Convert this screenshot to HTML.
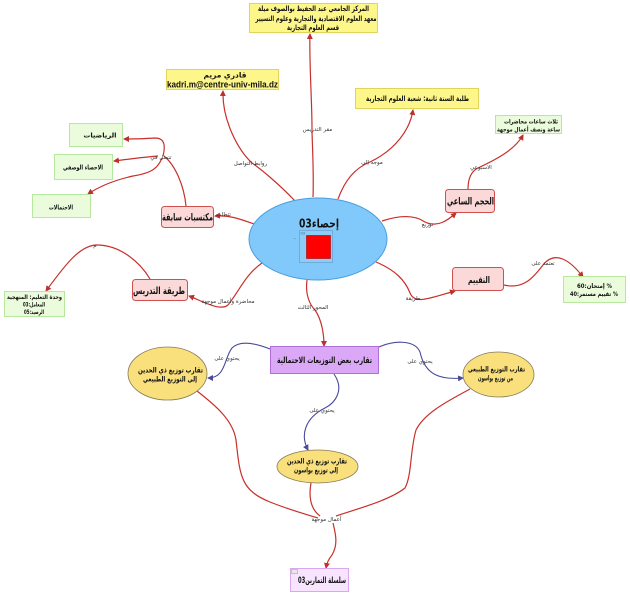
<!DOCTYPE html>
<html><head><meta charset="utf-8"><style>
html,body{margin:0;padding:0;background:#fff;}
svg{display:block;}
text{font-family:"DejaVu Sans","Liberation Sans",sans-serif;}
.b{font-weight:bold;fill:#111;}
.l{font-size:5.5px;fill:#333;}
</style></head><body>
<svg width="630" height="596" viewBox="0 0 630 596" xmlns="http://www.w3.org/2000/svg">
<defs>
<marker id="ar" markerWidth="6" markerHeight="6" refX="5" refY="3" orient="auto" markerUnits="userSpaceOnUse"><path d="M0,0 L6,3 L0,6 z" fill="#c0302a"/></marker>
<marker id="an" markerWidth="6" markerHeight="6" refX="5" refY="3" orient="auto" markerUnits="userSpaceOnUse"><path d="M0,0 L6,3 L0,6 z" fill="#4a4a9a"/></marker>
</defs>
<g fill="none" stroke="#c8302a" stroke-width="1.2">
<path d="M313 197 C314 170 312 140 312 129 C312 100 309 60 310 34" marker-end="url(#ar)"/>
<path d="M295 201 C280 185 262 170 252 163 C238 150 222 120 223 91" marker-end="url(#ar)"/>
<path d="M338 199 C345 180 355 168 370 162 C395 150 410 130 413 110" marker-end="url(#ar)"/>
<path d="M382 221 C400 215 415 215 425 222 C438 228 448 220 456 213" marker-end="url(#ar)"/>
<path d="M468 189 C468 180 470 172 478 168 C495 160 515 150 523 135" marker-end="url(#ar)"/>
<path d="M376 262 C395 270 405 280 410 293 C415 305 430 298 455 291" marker-end="url(#ar)"/>
<path d="M504 285 C525 290 535 275 543 265 C555 250 570 260 583 277" marker-end="url(#ar)"/>
<path d="M254 224 C240 219 230 215 215 216" marker-end="url(#ar)"/>
<path d="M186 206 C184 185 175 165 164 156"/>
<path d="M163 156 C165 148 166 138 155 138 C140 139 132 139 124 139" marker-end="url(#ar)"/>
<path d="M158 156 C145 157 130 159 114 161" marker-end="url(#ar)"/>
<path d="M162 158 C158 168 152 173 133 176 C115 180 100 186 88 194" marker-end="url(#ar)"/>
<path d="M262 263 C245 275 240 290 228 305 C220 312 200 300 189 296" marker-end="url(#ar)"/>
<path d="M150 279 C140 262 120 245 97 245 C80 245 65 265 46 291" marker-end="url(#ar)"/>
<path d="M307 280 C305 295 310 305 315 310 C322 320 324 335 324 346" marker-end="url(#ar)"/>
<path d="M197 391 C215 405 233 420 236 440 C240 475 240 490 270 502 C290 510 305 514 318 518"/>
<path d="M470 389 C450 400 425 412 416 430 C410 450 412 475 405 488 C390 500 360 508 336 516"/>
<path d="M311 483 C308 500 312 510 320 516"/>
<path d="M333 523 C336 535 338 545 332 555 C328 560 327 563 326 568" marker-end="url(#ar)"/>
</g>
<g fill="none" stroke="#4a4a9a" stroke-width="1.1">
<path d="M270 349 C255 343 240 340 232 348 C224 358 226 378 208 378" marker-end="url(#an)"/>
<path d="M379 347 C395 340 415 340 420 352 C425 375 440 380 463 378" marker-end="url(#an)"/>
<path d="M334 374 C345 390 335 403 325 408 C305 418 300 435 308 450" marker-end="url(#an)"/>
</g>

<!-- yellow boxes -->
<rect x="249.5" y="3.5" width="128" height="29" fill="#fdf68a" stroke="#e2d35a"/>
<text class="b" direction="rtl" text-anchor="middle" x="313.5" y="11" font-size="7.5" textLength="111" lengthAdjust="spacingAndGlyphs">المركز الجامعي عبد الحفيظ بوالصوف ميلة</text>
<text class="b" direction="rtl" text-anchor="middle" x="316" y="21" font-size="7.5" textLength="121" lengthAdjust="spacingAndGlyphs">معهد العلوم الاقتصادية والتجارية وعلوم التسيير</text>
<text class="b" direction="rtl" text-anchor="middle" x="313" y="30" font-size="7.5" textLength="52" lengthAdjust="spacingAndGlyphs">قسم العلوم التجارية</text>

<rect x="166.5" y="69.5" width="112" height="20" fill="#fdf68a" stroke="#e2d35a"/>
<text class="b" direction="rtl" text-anchor="middle" x="225" y="77.5" font-size="7.5" textLength="43" lengthAdjust="spacingAndGlyphs">قادري مريم</text>
<text class="b" text-anchor="middle" x="222.5" y="87.5" font-size="9.5" textLength="111" lengthAdjust="spacingAndGlyphs" style="font-family:'Liberation Sans',sans-serif">kadri.m@centre-univ-mila.dz</text>

<rect x="355.5" y="88.5" width="123" height="20" fill="#fdf68a" stroke="#e2d35a"/>
<text class="b" direction="rtl" text-anchor="middle" x="417.5" y="101" font-size="7.5" textLength="103" lengthAdjust="spacingAndGlyphs">طلبة السنة ثانية: شعبة العلوم التجارية</text>

<!-- green boxes -->
<rect x="495.5" y="115.5" width="66" height="18" fill="#eafcdc" stroke="#b8e8a0"/>
<text class="b" direction="rtl" text-anchor="middle" x="531" y="123.5" font-size="6" textLength="54" lengthAdjust="spacingAndGlyphs">ثلاث ساعات  محاضرات</text>
<text class="b" direction="rtl" text-anchor="middle" x="528.5" y="131.5" font-size="6" textLength="63" lengthAdjust="spacingAndGlyphs">ساعة ونصف أعمال موجهة</text>

<rect x="69.5" y="123.5" width="53" height="23" fill="#eafcdc" stroke="#b8e8a0"/>
<text class="b" direction="rtl" text-anchor="middle" x="100" y="137.5" font-size="6.5" textLength="33" lengthAdjust="spacingAndGlyphs">الرياضيات</text>
<rect x="54.5" y="154.5" width="58" height="25" fill="#eafcdc" stroke="#b8e8a0"/>
<text class="b" direction="rtl" text-anchor="middle" x="83" y="169.5" font-size="6.5" textLength="40" lengthAdjust="spacingAndGlyphs">الاحصاء الوصفي</text>
<rect x="32.5" y="194.5" width="58" height="23" fill="#eafcdc" stroke="#b8e8a0"/>
<text class="b" direction="rtl" text-anchor="middle" x="61" y="209.5" font-size="6.5" textLength="24" lengthAdjust="spacingAndGlyphs">الاحتمالات</text>

<rect x="4.5" y="291.5" width="60" height="25" fill="#eafcdc" stroke="#b8e8a0"/>
<text class="b" direction="rtl" text-anchor="middle" x="34.5" y="299" font-size="6" textLength="55" lengthAdjust="spacingAndGlyphs">وحدة التعليم: المنهجية</text>
<text class="b" direction="rtl" text-anchor="middle" x="34" y="306.5" font-size="6" textLength="22" lengthAdjust="spacingAndGlyphs">المعامل:03</text>
<text class="b" direction="rtl" text-anchor="middle" x="34" y="314" font-size="6" textLength="20" lengthAdjust="spacingAndGlyphs">الرصيد:05</text>

<rect x="563.5" y="276.5" width="62" height="26" fill="#eafcdc" stroke="#b8e8a0"/>
<text class="b" direction="rtl" text-anchor="middle" x="594.5" y="288" font-size="6.5" textLength="35" lengthAdjust="spacingAndGlyphs">%  إمتحان:60</text>
<text class="b" direction="rtl" text-anchor="middle" x="594" y="296" font-size="6.5" textLength="48" lengthAdjust="spacingAndGlyphs">%  تقييم مستمر:40</text>

<!-- pink boxes -->
<rect x="445.5" y="189.5" width="49" height="23" rx="3" fill="#fcd9d9" stroke="#d05050"/>
<text class="b" direction="rtl" text-anchor="middle" x="470.5" y="204.5" font-size="10" textLength="47" lengthAdjust="spacingAndGlyphs">الحجم الساعي</text>
<rect x="161.5" y="206.5" width="52" height="21" rx="3" fill="#fcd9d9" stroke="#d05050"/>
<text class="b" direction="rtl" text-anchor="middle" x="187.5" y="220.5" font-size="10" textLength="51" lengthAdjust="spacingAndGlyphs">مكتسبات سابقة</text>
<rect x="132.5" y="279.5" width="55" height="21" rx="3" fill="#fcd9d9" stroke="#d05050"/>
<text class="b" direction="rtl" text-anchor="middle" x="159" y="294" font-size="10" textLength="52" lengthAdjust="spacingAndGlyphs">طريقة التدريس</text>
<rect x="452.5" y="267.5" width="51" height="23" rx="3" fill="#fcd9d9" stroke="#d05050"/>
<text class="b" direction="rtl" text-anchor="middle" x="479" y="283" font-size="9" textLength="22" lengthAdjust="spacingAndGlyphs">التقييم</text>

<!-- central ellipse -->
<ellipse cx="318" cy="239" rx="69" ry="41" fill="#82c9fb" stroke="#4a9ede" stroke-width="1"/>
<text class="b" direction="rtl" text-anchor="middle" x="319" y="227.5" font-size="12" textLength="40" lengthAdjust="spacingAndGlyphs">إحصاء03</text>
<rect x="299.5" y="230.5" width="33" height="32" fill="#8ccdf8" stroke="#6a9ccc" stroke-width="0.7"/>
<rect x="306.5" y="235.5" width="24" height="23" fill="#ff0000" stroke="#b00000" stroke-width="0.6"/>
<text x="300.5" y="234.5" font-size="3.5" fill="#555">03</text>
<text x="294" y="240" font-size="5" fill="#555">-</text>

<!-- purple box -->
<rect x="270.5" y="346.5" width="108" height="27" fill="#daa8f6" stroke="#b070d8"/>
<text class="b" direction="rtl" text-anchor="middle" x="324.5" y="363" font-size="8.5" textLength="95" lengthAdjust="spacingAndGlyphs">تقارب بعض التوزيعات الاحتمالية</text>

<!-- yellow ellipses -->
<ellipse cx="167.5" cy="373.5" rx="39.5" ry="26.5" fill="#f9e07c" stroke="#857a5a" stroke-width="0.8"/>
<text class="b" direction="rtl" text-anchor="middle" x="170.5" y="372.5" font-size="7.5" textLength="65" lengthAdjust="spacingAndGlyphs">تقارب توزيع ذي الحدين</text>
<text class="b" direction="rtl" text-anchor="middle" x="170" y="381.5" font-size="7.5" textLength="54" lengthAdjust="spacingAndGlyphs">إلى التوزيع الطبيعي</text>

<ellipse cx="498.5" cy="374.5" rx="35.5" ry="22.5" fill="#f9e07c" stroke="#857a5a" stroke-width="0.8"/>
<text class="b" direction="rtl" text-anchor="middle" x="496.5" y="371.5" font-size="7" textLength="57" lengthAdjust="spacingAndGlyphs">تقارب التوزيع الطبيعي</text>
<text class="b" direction="rtl" text-anchor="middle" x="495.5" y="380.5" font-size="7" textLength="35" lengthAdjust="spacingAndGlyphs">من توزيع بواسون</text>

<ellipse cx="317.5" cy="466.5" rx="40.5" ry="16.5" fill="#f9e07c" stroke="#857a5a" stroke-width="0.8"/>
<text class="b" direction="rtl" text-anchor="middle" x="317" y="463.5" font-size="7.5" textLength="60" lengthAdjust="spacingAndGlyphs">تقارب توزيع ذي الحدين</text>
<text class="b" direction="rtl" text-anchor="middle" x="316" y="472.5" font-size="7.5" textLength="44" lengthAdjust="spacingAndGlyphs">إلى توزيع بواسون</text>

<!-- bottom box -->
<rect x="290.5" y="568.5" width="58" height="23" fill="#f8e4ff" stroke="#d8a8f0"/>
<rect x="291.5" y="569.5" width="6" height="4" fill="#e8e8e8" stroke="#999" stroke-width="0.5"/>
<text class="b" direction="rtl" text-anchor="middle" x="322" y="583" font-size="8.5" textLength="48" lengthAdjust="spacingAndGlyphs">سلسلة التمارين03</text>

<!-- connector labels -->
<g class="l" text-anchor="middle">
<text direction="rtl" x="317.5" y="131">مقر التدريس</text>
<text direction="rtl" x="250.5" y="165">روابط التواصل</text>
<text direction="rtl" x="372" y="164">موجه إلى</text>
<text direction="rtl" x="481" y="169">الاسبوعي</text>
<text direction="rtl" x="427.5" y="226">توزيع</text>
<text direction="rtl" x="543" y="265">تعتمد على</text>
<text direction="rtl" x="413" y="300">طريقة</text>
<text direction="rtl" x="161" y="159">تتمثل في</text>
<text direction="rtl" x="223.5" y="216">تتطلب</text>
<text direction="rtl" x="95" y="247">م</text>
<text direction="rtl" x="228" y="303">محاضرة وأعمال موجهة</text>
<text direction="rtl" x="313" y="309">المحور الثالث</text>
<text direction="rtl" x="227" y="360">يحتوي على</text>
<text direction="rtl" x="420" y="363">يحتوي على</text>
<text direction="rtl" x="322" y="412">يحتوي على</text>
<text direction="rtl" x="326.5" y="521">أعمال موجهة</text>
</g>
</svg>
</body></html>
